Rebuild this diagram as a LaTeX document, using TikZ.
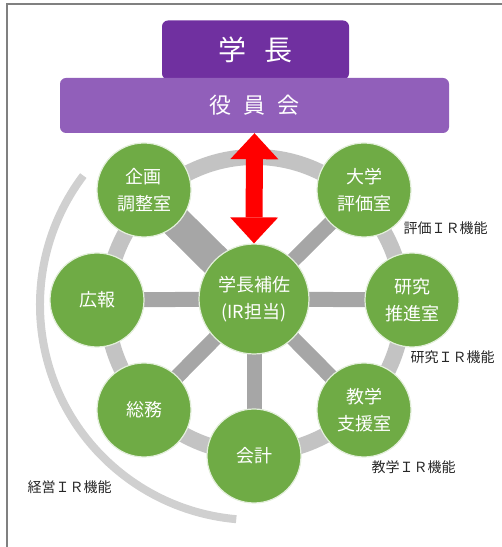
\documentclass[tikz,border=0pt]{standalone}
\usepackage{fontspec}
\setmainfont{Noto Sans CJK JP}
\usetikzlibrary{backgrounds,arrows.meta}
\definecolor{deanpurple}{HTML}{7030A0}
\definecolor{boardpurple}{HTML}{915FBA}
\definecolor{unitgreen}{HTML}{6FAB45}
\definecolor{spokegray}{HTML}{A6A6A6}
\definecolor{ringgray}{HTML}{C3C3C3}
\definecolor{arcgray}{HTML}{D0D0D0}
\begin{document}
\begin{tikzpicture}[x=1pt,y=1pt,
    unit/.style={circle,fill=unitgreen,draw=white!80!unitgreen,line width=1.2pt,
      minimum size=94pt,inner sep=0pt,text=white,align=center,
      font=\fontsize{18}{27}\selectfont},
    spoke/.style={draw=spokegray,line width=15pt},
    func/.style={anchor=west,text=black!85,font=\fontsize{14}{16}\selectfont}]
    \useasboundingbox (0,0) rectangle (502,547);
    % Frame
    \draw[gray,line width=2pt] (7,0) -- (7,543) -- (502,543);
    % Top boxes
    \node[fill=deanpurple,rounded corners=6pt,minimum width=187pt,minimum height=59pt,
          text=white,font=\fontsize{28}{30}\selectfont] (dean) at (255.5,497)
          {学\hspace{18pt}長};
    \node[fill=boardpurple,rounded corners=6pt,minimum width=389pt,minimum height=55pt,
          text=white,font=\fontsize{22}{24}\selectfont] (board) at (254.5,441.5)
          {役\hspace{12pt}員\hspace{12pt}会};
    % Units on the wheel
    \node[unit,minimum size=110pt] (asst) at (254,248) {学長補佐\\(IR担当)};
    \node[unit] (plan) at (144,357) {企画\\調整室};
    \node[unit] (eval) at (364,357) {大学\\評価室};
    \node[unit] (pr) at (97,247) {広報};
    \node[unit] (research) at (412,247) {研究\\推進室};
    \node[unit] (general) at (144,137) {総務};
    \node[unit] (edu) at (364,137) {教学\\支援室};
    \node[unit] (account) at (254,91) {会計};
    % Wheel rim and spokes
    \begin{scope}[on background layer]
      \coordinate (hub) at (255,242);
      \draw[ringgray,line width=16pt] (hub) circle[radius=148];
      \draw[arcgray,line width=8pt] (hub) ++(143:215) arc[start angle=143,end angle=265,radius=215];
      \draw[spoke,line width=32pt] (asst.center) -- (plan.center);
      \foreach \u in {eval,pr,research,general,edu,account}
        \draw[spoke] (asst.center) -- (\u.center);
    \end{scope}
    % Link to the board
    \draw[red,line width=17pt,
          {Triangle[width=48pt,length=26pt,line width=0pt]}-{Triangle[width=48pt,length=26pt,line width=0pt]}]
          (board.south) -- (asst.north);
    % IR functions
    \node[func] (evalir) at (400,319) {評価ＩＲ機能};
    \node[func] (researchir) at (407,190) {研究ＩＲ機能};
    \node[func] (eduir) at (368,80) {教学ＩＲ機能};
    \node[func] (mgmtir) at (24,60) {経営ＩＲ機能};
\end{tikzpicture}
\end{document}
